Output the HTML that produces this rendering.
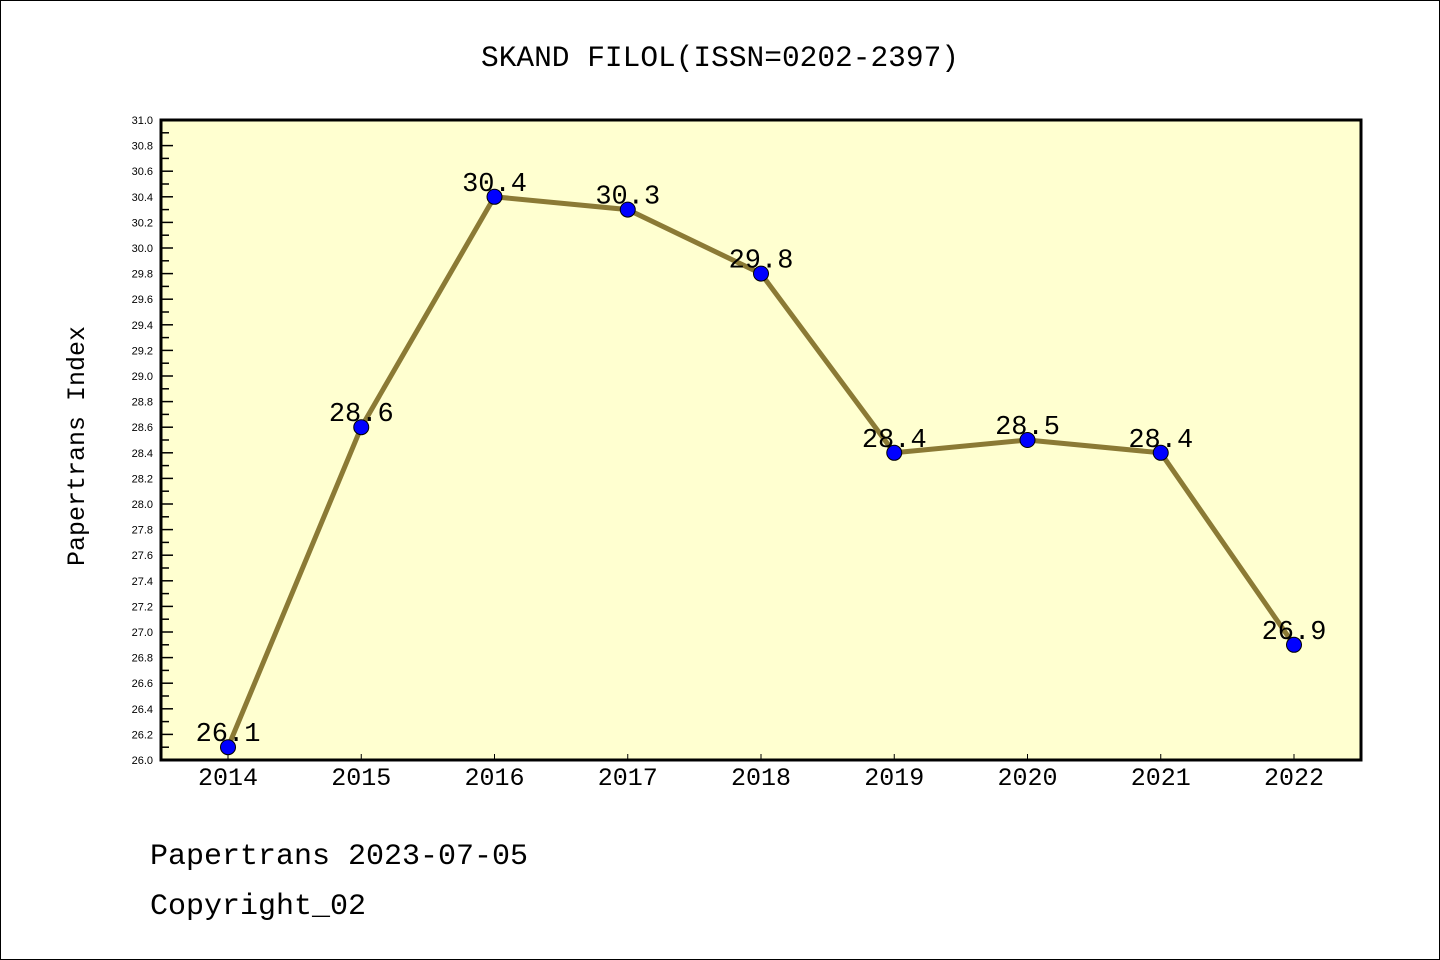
<!DOCTYPE html>
<html><head><meta charset="utf-8"><style>
body{margin:0;background:#fff;}
svg{display:block;font-family:"Liberation Mono",monospace;}
</style></head><body>
<svg id="chart" width="1440" height="960" xmlns="http://www.w3.org/2000/svg">
<rect x="0.5" y="0.5" width="1439" height="959" fill="#fff" stroke="#000"/>
<text x="720" y="66" font-size="29.5" text-anchor="middle">SKAND FILOL(ISSN=0202-2397)</text>
<rect x="161" y="120" width="1200" height="640" fill="#ffffd0"/>
<g id="yaxis"></g>
<g id="xaxis"></g>
<g id="series"></g>
<rect x="161" y="120" width="1200" height="640" fill="none" stroke="#000" stroke-width="3"/>
<text transform="translate(84,446) rotate(-90)" font-size="25" text-anchor="middle">Papertrans Index</text>
<text x="150" y="864" font-size="30">Papertrans 2023-07-05</text>
<text x="150" y="914" font-size="30">Copyright_02</text>
</svg>
<script>
const years=["2014","2015","2016","2017","2018","2019","2020","2021","2022"];
const values=[26.1,28.6,30.4,30.3,29.8,28.4,28.5,28.4,26.9];
const yMin=26.0,yMax=31.0;
const NS="http://www.w3.org/2000/svg";
const L=161,R=1361,T=120,B=760;
const xPos=i=>228+i*(1294-228)/(years.length-1);
const yPos=v=>B-(v-yMin)/(yMax-yMin)*(B-T);
function mk(tag,attrs,parent){const e=document.createElementNS(NS,tag);for(const k in attrs)e.setAttribute(k,attrs[k]);parent.appendChild(e);return e;}
const ya=document.getElementById('yaxis'),xa=document.getElementById('xaxis'),sg=document.getElementById('series');
for(let k=0;k<=50;k++){
  const v=yMin+k*0.1,y=yPos(v),major=k%2===0;
  const t=mk('line',{x1:L,x2:L+(major?12:8),y1:y,y2:y,stroke:'#000','stroke-width':1.5},ya);
  
  
  if(major){
    const lb=mk('text',{x:L-8,y:y+4,'font-size':11,'text-anchor':'end','font-family':'Liberation Sans, sans-serif'},ya);
    
    
    lb.textContent=v.toFixed(1);
  }
}
years.forEach((yr,i)=>{
  const x=xPos(i);
  const t=mk('line',{x1:x,x2:x,y1:B,y2:B-6,stroke:'#000','stroke-width':1},xa);
  
  
  const lb=mk('text',{x:x,y:B+25,'font-size':25,'text-anchor':'middle'},xa);
  
  
  lb.textContent=yr;
});
const pl=mk('polyline',{points:values.map((v,i)=>xPos(i)+','+yPos(v)).join(' '),fill:'none',stroke:'#8b7a35','stroke-width':5},sg);


values.forEach((v,i)=>{
  const c=mk('circle',{cx:xPos(i),cy:yPos(v),r:7.5,fill:'#0000ff',stroke:'#000','stroke-width':1},sg);
  
  
  const lb=mk('text',{x:xPos(i),y:yPos(v)-6,'font-size':27,'text-anchor':'middle'},sg);
  
  
  lb.textContent=v.toFixed(1);
});
</script>
</body></html>
